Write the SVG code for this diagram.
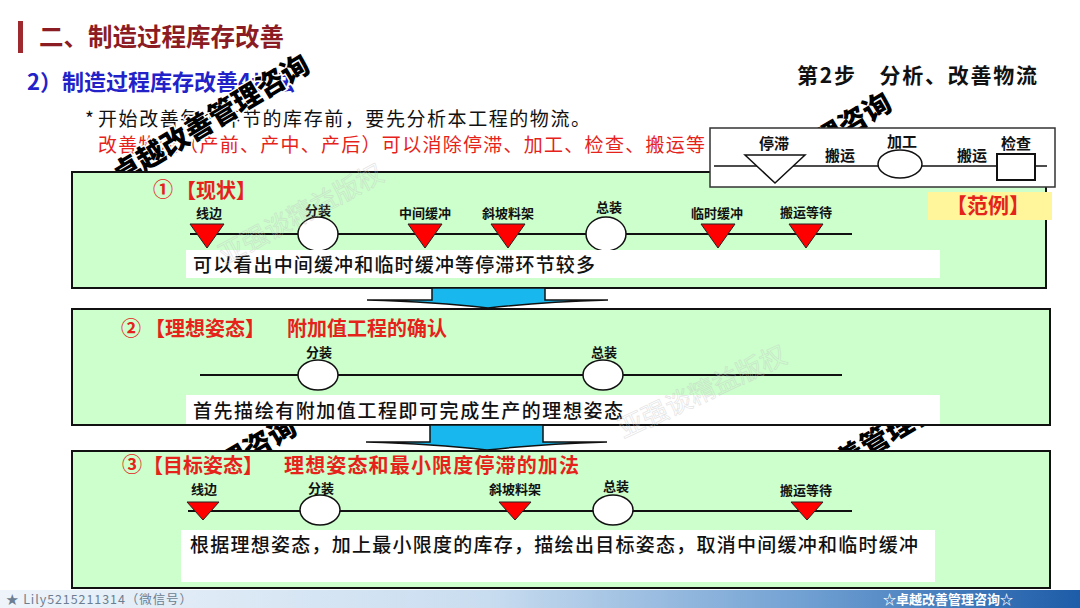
<svg xmlns="http://www.w3.org/2000/svg" width="1080" height="608" viewBox="0 0 1080 608">
<defs>
<linearGradient id="barGrad" x1="0" y1="0" x2="1" y2="0">
<stop offset="0" stop-color="#eef4fa"/>
<stop offset="0.45" stop-color="#c9ddf0"/>
<stop offset="0.75" stop-color="#6f9fd2"/>
<stop offset="1" stop-color="#1d5ca8"/>
</linearGradient>
<style>
text{font-family:"Noto Sans CJK SC","Noto Sans",sans-serif}
.box{fill:#ccffcc;stroke:#111;stroke-width:2}
.lbl{font-size:13px;font-weight:bold;fill:#111;text-anchor:middle}
.lg{font-size:15px;font-weight:bold;fill:#111;text-anchor:middle}
.stop{fill:#ff0000;stroke:#222;stroke-width:1}
.proc{fill:#fff;stroke:#111;stroke-width:1.5}
.flow{stroke:#111;stroke-width:2;fill:none}
.note{fill:#fff}
.desc{font-size:19px;fill:#111;font-weight:500}
.ttl{font-size:20px;font-weight:bold;fill:#e5231b}
.wm{font-size:28px;font-weight:900;fill:#000;stroke:#fff;stroke-width:3;paint-order:stroke;text-anchor:middle}
.wm2{font-size:26px;fill:none;stroke:#c4c4c4;stroke-width:0.7;opacity:0.45;text-anchor:middle}
.arrow{fill:#18b8ee;stroke:#111;stroke-width:1.5}
</style>
</defs>
<rect width="1080" height="608" fill="#fff"/>

<g id="header">
<rect x="18" y="21" width="5" height="32" fill="#9e2a2f"/>
<text x="39" y="46" font-size="24.5" font-weight="bold" fill="#8c1c24">二、制造过程库存改善</text>
<text x="27" y="90" font-size="22" font-weight="bold" fill="#2222c8">2）制造过程库存改善4步法</text>
<text x="85" y="126" font-size="19" fill="#111">*</text>
<text x="98" y="126" font-size="19" fill="#111" textLength="492" lengthAdjust="spacing">开始改善每个环节的库存前，要先分析本工程的物流。</text>
<text x="98" y="152" font-size="19" fill="#e5231b" textLength="607" lengthAdjust="spacing">改善物流（产前、产中、产后）可以消除停滞、加工、检查、搬运等</text>
<text x="797" y="83" font-size="21" font-weight="bold" fill="#111" textLength="240" lengthAdjust="spacing">第2步　分析、改善物流</text>
</g>

<g id="watermarks">
<text class="wm" transform="translate(216,128) rotate(-31)">卓越改善管理咨询</text>
<text class="wm" transform="translate(798,166) rotate(-31)">卓越改善管理咨询</text>
<text class="wm" transform="translate(203,490) rotate(-31)">卓越改善管理咨询</text>
<text class="wm" transform="translate(868,457) rotate(-31)">卓越改善管理咨询</text>
</g>

<g id="box1">
<rect class="box" x="72" y="172" width="974" height="116"/>
<text class="ttl" x="153" y="197" font-size="17">①</text>
<text class="ttl" x="176" y="198">【现状】</text>
<line class="flow" x1="190" y1="234" x2="852" y2="234"/>
<polygon class="stop" points="190,224 224,224 207,248"/>
<polygon class="stop" points="408,224 442,224 425,248"/>
<polygon class="stop" points="491,224 525,224 508,248"/>
<polygon class="stop" points="701,224 735,224 718,248"/>
<polygon class="stop" points="789,224 823,224 806,248"/>
<ellipse class="proc" cx="318" cy="234" rx="20" ry="17"/>
<ellipse class="proc" cx="606" cy="234" rx="20" ry="17"/>
<text class="lbl" x="209" y="218">线边</text>
<text class="lbl" x="318" y="215">分装</text>
<text class="lbl" x="425" y="218">中间缓冲</text>
<text class="lbl" x="508" y="218">斜坡料架</text>
<text class="lbl" x="609" y="212">总装</text>
<text class="lbl" x="717" y="218">临时缓冲</text>
<text class="lbl" x="806" y="217">搬运等待</text>
<rect class="note" x="186" y="250" width="754" height="28"/>
<text class="desc" x="193" y="272" textLength="402" lengthAdjust="spacing">可以看出中间缓冲和临时缓冲等停滞环节较多</text>
<rect x="928" y="192" width="124" height="28" fill="#fff59a"/>
<text x="988" y="213" font-size="21" font-weight="bold" fill="#e5231b" text-anchor="middle">【范例】</text>
</g>

<g id="legend">
<rect x="710" y="128" width="345" height="59" fill="#fff" stroke="#333" stroke-width="1.5"/>
<line x1="714" y1="166" x2="1047" y2="166" stroke="#111" stroke-width="1.5"/>
<polygon points="745,155 805,155 775,183" class="proc"/>
<ellipse cx="900" cy="164" rx="22" ry="14" class="proc"/>
<rect x="997" y="154" width="38" height="26" fill="#fff" stroke="#111" stroke-width="2"/>
<text class="lg" x="774" y="149">停滞</text>
<text class="lg" x="840" y="161">搬运</text>
<text class="lg" x="902" y="147">加工</text>
<text class="lg" x="972" y="161">搬运</text>
<text class="lg" x="1016" y="149">检查</text>
</g>

<g id="box2">
<rect class="box" x="72" y="309" width="978" height="116"/>
<text class="ttl" x="121" y="336" font-size="18">②</text>
<text class="ttl" x="145" y="336">【理想姿态】</text>
<text class="ttl" x="287" y="336" font-size="19.5">附加值工程的确认</text>
<line class="flow" x1="200" y1="375" x2="842" y2="375"/>
<ellipse class="proc" cx="318" cy="375" rx="20" ry="15"/>
<ellipse class="proc" cx="603" cy="375" rx="20" ry="15"/>
<text class="lbl" x="319" y="357">分装</text>
<text class="lbl" x="604" y="357">总装</text>
<rect class="note" x="186" y="395" width="754" height="29"/>
<text class="desc" x="193" y="418" textLength="430" lengthAdjust="spacing">首先描绘有附加值工程即可完成生产的理想姿态</text>
</g>

<g id="box3">
<rect class="box" x="72" y="451" width="978" height="137"/>
<text class="ttl" x="122" y="472" font-size="17">③</text>
<text class="ttl" x="143" y="473">【目标姿态】</text>
<text class="ttl" x="284" y="473" textLength="295" lengthAdjust="spacing">理想姿态和最小限度停滞的加法</text>
<line class="flow" x1="188" y1="511" x2="852" y2="511"/>
<polygon class="stop" points="187,502 219,502 203,520"/>
<polygon class="stop" points="499,502 531,502 515,520"/>
<polygon class="stop" points="791,502 823,502 807,520"/>
<ellipse class="proc" cx="320" cy="510" rx="20" ry="15"/>
<ellipse class="proc" cx="613" cy="510" rx="20" ry="15"/>
<text class="lbl" x="204" y="494">线边</text>
<text class="lbl" x="321" y="493">分装</text>
<text class="lbl" x="515" y="494">斜坡料架</text>
<text class="lbl" x="616" y="491">总装</text>
<text class="lbl" x="806" y="495">搬运等待</text>
<rect class="note" x="181" y="530" width="754" height="52"/>
<text class="desc" x="190" y="552" textLength="728" lengthAdjust="spacing">根据理想姿态，加上最小限度的库存，描绘出目标姿态，取消中间缓冲和临时缓冲</text>
</g>

<g id="connectors">
<path class="arrow" d="M432,288 H545 V300 L608,300 Q540,302 488,308 Q436,302 367,300 L432,300 Z"/>
<path class="arrow" d="M430,425 H543 V442 L607,442 Q540,444 487,450 Q434,444 366,442 L430,442 Z"/>
</g>

<g id="faint-watermarks">
<text class="wm2" transform="translate(305,222) rotate(-28)">亚强谈精益版权</text>
<text class="wm2" transform="translate(706,400) rotate(-25)">亚强谈精益版权</text>
</g>

<g id="footer">
<rect x="0" y="590" width="1080" height="18" fill="url(#barGrad)"/>
<text x="6" y="604" font-size="12.5" fill="#6c7e92" textLength="186" lengthAdjust="spacing">★ Lily5215211314（微信号）</text>
<text x="948" y="604" font-size="13" font-weight="bold" fill="#fff" text-anchor="middle">☆卓越改善管理咨询☆</text>
</g>
</svg>
